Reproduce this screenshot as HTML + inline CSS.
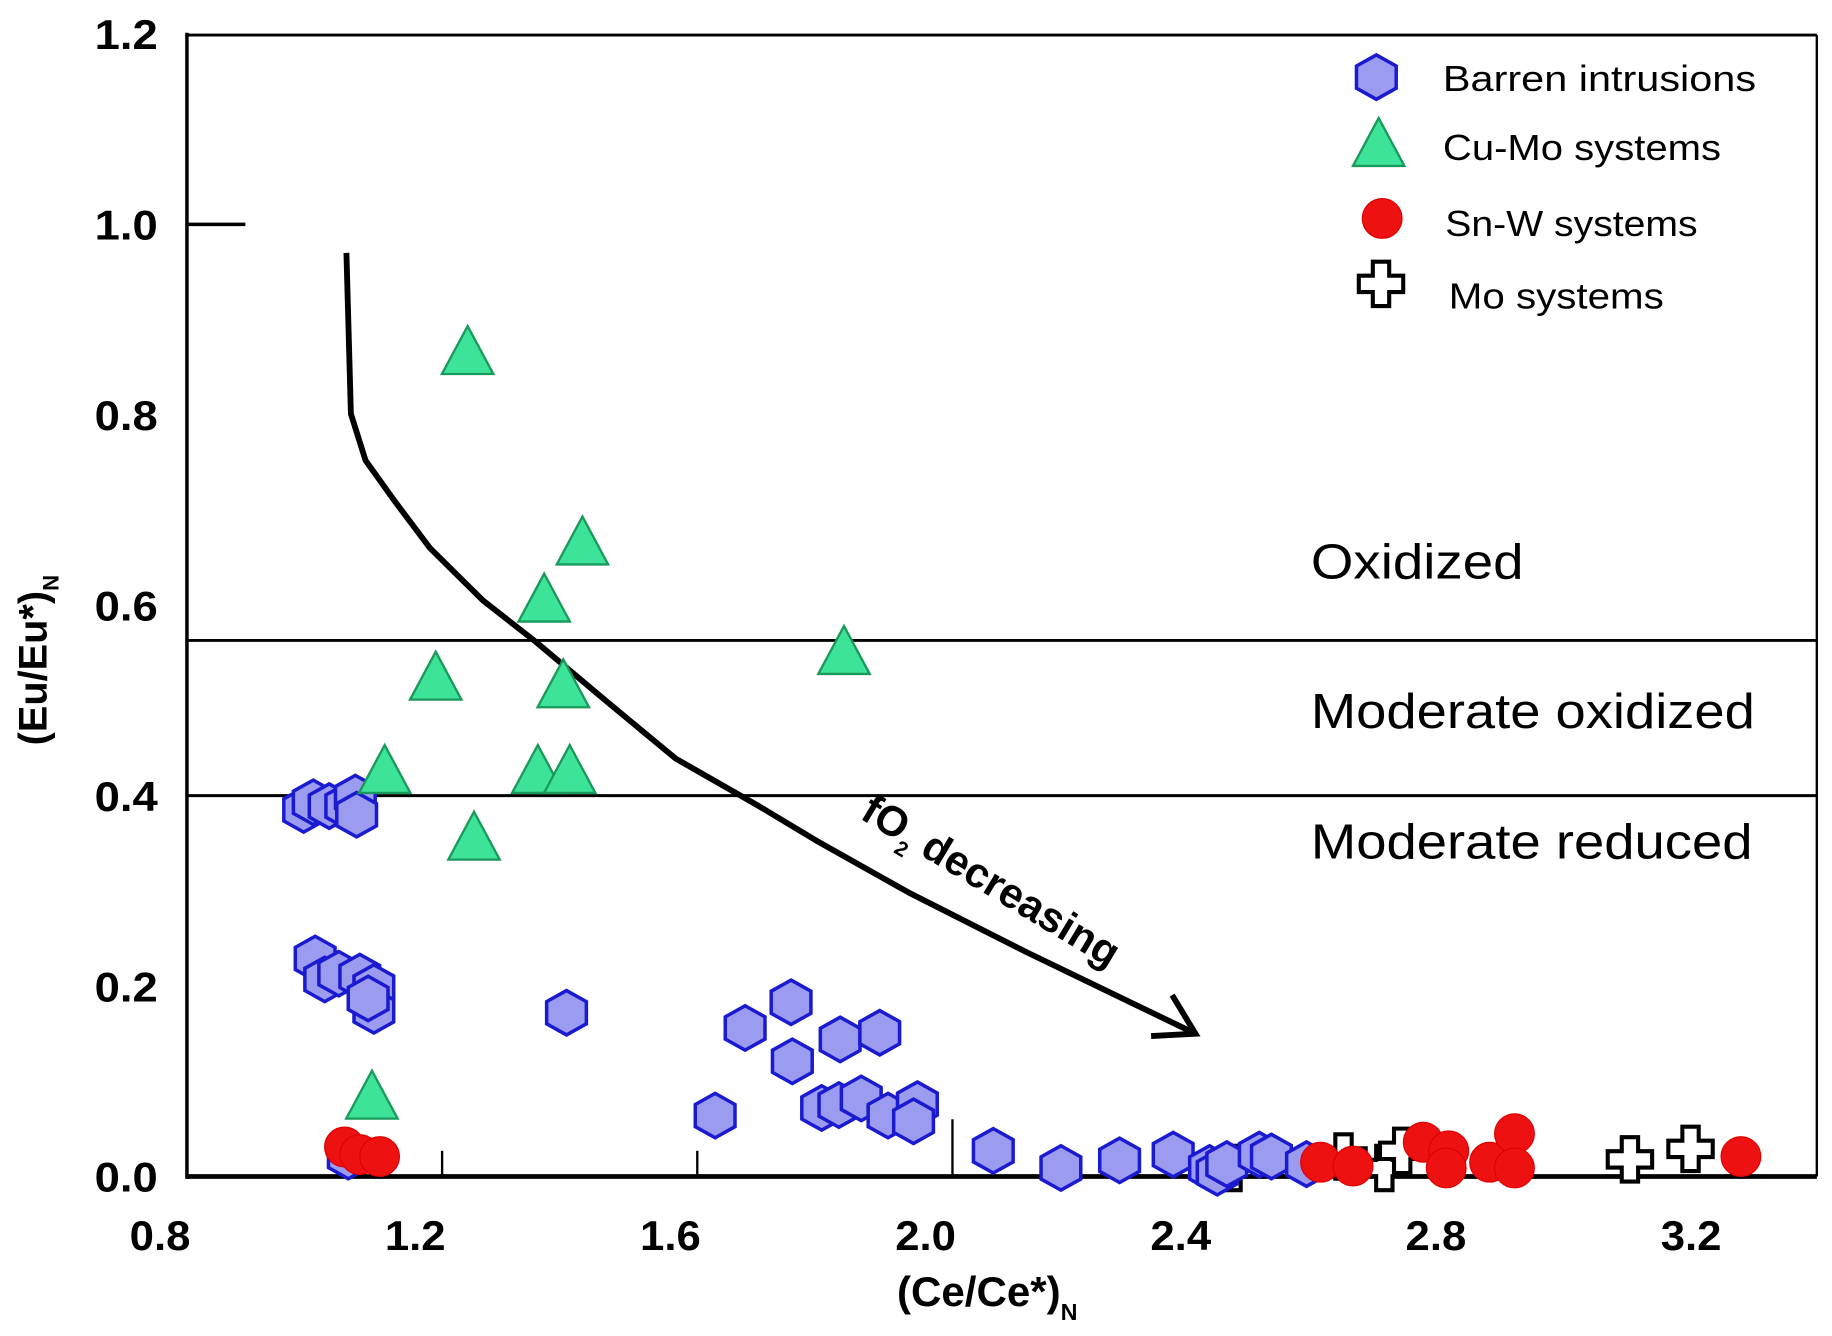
<!DOCTYPE html>
<html><head><meta charset="utf-8"><style>
html,body{margin:0;padding:0;background:#fff;}
svg{display:block;}
text{font-family:"Liberation Sans",sans-serif;}
</style></head><body>
<svg id="chart" width="1832" height="1336" viewBox="0 0 1568 1143.5" preserveAspectRatio="none" xmlns="http://www.w3.org/2000/svg">
<g id="frame">
<line x1="160" y1="30" x2="1555" y2="30" stroke="#000" stroke-width="2.5"/>
<line x1="1555" y1="30" x2="1555" y2="1007" stroke="#000" stroke-width="2"/>
<line x1="160" y1="28" x2="160" y2="1009" stroke="#000" stroke-width="3"/>
<line x1="160" y1="1007" x2="1555" y2="1007" stroke="#000" stroke-width="4"/>
</g>
<g id="xaxis"></g>
<g id="yaxis"></g>
<g id="bounds"></g>
<g id="curve"></g>
<g id="marks"></g>
<g id="legend"></g>
<text x="845" y="1118" text-anchor="middle" font-size="36" font-weight="bold">(Ce/Ce*)<tspan font-size="20" dy="12">N</tspan></text>
<text transform="translate(40,565) rotate(-90)" text-anchor="middle" font-size="34" font-weight="bold">(Eu/Eu*)<tspan font-size="19" dy="10">N</tspan></text>
<text x="1122" y="495" font-size="42" textLength="182" lengthAdjust="spacingAndGlyphs">Oxidized</text>
<text x="1122" y="623" font-size="42" textLength="380" lengthAdjust="spacingAndGlyphs">Moderate oxidized</text>
<text x="1122" y="735" font-size="42" textLength="378" lengthAdjust="spacingAndGlyphs">Moderate reduced</text>
<text transform="translate(735,700) rotate(31)" font-size="36" font-weight="bold">fO<tspan font-size="18" dy="10">2</tspan><tspan dy="-10"> decreasing</tspan></text>
</svg>
<script>
const xTicks=[0.8,1.2,1.6,2.0,2.4,2.8,3.2];
const yTicks=[0.0,0.2,0.4,0.6,0.8,1.0,1.2];
const boundaries=[0.563,0.4];
const curveX=[1.05,1.057,1.08,1.126,1.181,1.264,1.346,1.456,1.566,1.694,1.786,1.932,2.115,2.381];
const curveY=[0.970,0.801,0.752,0.709,0.660,0.605,0.562,0.500,0.439,0.390,0.353,0.298,0.236,0.150];
const barrenX=[0.983,0.998,1.023,1.049,1.064,1.066,1.001,1.016,1.038,1.071,1.093,1.093,1.084,1.395,1.053,1.675,1.747,1.749,1.824,1.886,1.628,1.795,1.822,1.857,1.899,1.945,1.939,2.064,2.170,2.262,2.346,2.403,2.415,2.430,2.481,2.500,2.555];
const barrenY=[0.385,0.393,0.389,0.389,0.398,0.380,0.229,0.207,0.213,0.210,0.199,0.174,0.187,0.172,0.021,0.156,0.183,0.121,0.144,0.151,0.064,0.072,0.075,0.082,0.064,0.076,0.058,0.027,0.009,0.017,0.023,0.009,0.004,0.013,0.023,0.021,0.013];
const cumoX=[1.24,1.42,1.36,1.83,1.19,1.39,1.11,1.35,1.40,1.25,1.09];
const cumoY=[0.86,0.66,0.60,0.545,0.518,0.51,0.42,0.42,0.42,0.35,0.078];
const snwX=[1.047,1.071,1.102,2.577,2.628,2.738,2.778,2.774,2.842,2.881,2.881,3.236];
const snwY=[0.031,0.023,0.021,0.015,0.011,0.036,0.027,0.009,0.015,0.045,0.009,0.021];
const moX=[2.439,2.613,2.677,2.705,3.062,3.157];
const moY=[0.009,0.021,0.009,0.027,0.018,0.029];

const NS='http://www.w3.org/2000/svg';
const sx=v=>160+(v-0.8)*546;
const sy=v=>1007-v*815;
function mk(tag,attrs,parent){const e=document.createElementNS(NS,tag);for(const k in attrs)e.setAttribute(k,attrs[k]);parent.appendChild(e);return e;}
const gx=document.getElementById('xaxis'),gy=document.getElementById('yaxis');
xTicks.forEach((t,i)=>{
  const x=sx(t);
  if(i>0&&i<4){const l=mk('line',{x1:x,y1:1007,x2:x,y2:i==3?958:985,stroke:'#000','stroke-width':2},gx);
    
    }
  const tx=mk('text',{x:x-23,y:1070,'text-anchor':'middle','font-size':36,'font-weight':'bold',textLength:52,lengthAdjust:'spacingAndGlyphs'},gx);
  tx.textContent=t.toFixed(1);
  
  
});
yTicks.forEach(t=>{
  const y=sy(t);
  if(t>0.9&&t<1.1){const l=mk('line',{x1:160,y1:y,x2:210,y2:y,stroke:'#000','stroke-width':3},gy);
    
    }
  const tx=mk('text',{x:135,y:y+13,'text-anchor':'end','font-size':36,'font-weight':'bold',textLength:54,lengthAdjust:'spacingAndGlyphs'},gy);
  tx.textContent=t.toFixed(1);
  
  
});
const gb=document.getElementById('bounds');
boundaries.forEach(b=>{const l=mk('line',{x1:160,y1:sy(b),x2:1555,y2:sy(b),stroke:'#000','stroke-width':2.5},gb);
  
  });
const gc=document.getElementById('curve');
const pts=curveX.map((v,i)=>sx(v)+','+sy(curveY[i])).join(' ');
const pl=mk('polyline',{points:pts,fill:'none',stroke:'#000','stroke-width':5,'stroke-linejoin':'round'},gc);


const ex=sx(curveX[curveX.length-1]),ey=sy(curveY[curveY.length-1]);
const ah=mk('polyline',{points:(ex-20)+','+(ey-33)+' '+ex+','+ey+' '+(ex-38)+','+(ey+2),fill:'none',stroke:'#000','stroke-width':5},gc);



function hex(cx,cy,p,name){const r=19,w=17;
  const e=mk('polygon',{points:[[cx,cy-r],[cx+w,cy-r/2],[cx+w,cy+r/2],[cx,cy+r],[cx-w,cy+r/2],[cx-w,cy-r/2]].map(a=>a.join(',')).join(' '),fill:'#9b9bf0',stroke:'#1a1ad0','stroke-width':3},p);
  
  }
function tri(cx,cy,p,name){
  const e=mk('polygon',{points:`${cx},${cy-27} ${cx+22},${cy+14} ${cx-22},${cy+14}`,fill:'#3ee39a',stroke:'#1a9a5a','stroke-width':2},p);
  
  }
function circ(cx,cy,p,name){
  const e=mk('circle',{cx:cx,cy:cy,r:17,fill:'#ee1111',stroke:'#dd0000','stroke-width':1},p);
  
  }
function cross(cx,cy,p,name){const a=7,b=19;
  const e=mk('polygon',{points:[[cx-a,cy-b],[cx+a,cy-b],[cx+a,cy-a],[cx+b,cy-a],[cx+b,cy+a],[cx+a,cy+a],[cx+a,cy+b],[cx-a,cy+b],[cx-a,cy+a],[cx-b,cy+a],[cx-b,cy-a],[cx-a,cy-a]].map(q=>q.join(',')).join(' '),fill:'#fff',stroke:'#000','stroke-width':3.5},p);
  
  }
const gm=document.getElementById('marks');
moX.forEach((v,i)=>cross(sx(v),sy(moY[i]),gm,'mo-point'));
barrenX.forEach((v,i)=>hex(sx(v),sy(barrenY[i]),gm,'barren-point'));
cumoX.forEach((v,i)=>tri(sx(v),sy(cumoY[i]),gm,'cu-mo-point'));
snwX.forEach((v,i)=>circ(sx(v),sy(snwY[i]),gm,'sn-w-point'));

const gl=document.getElementById('legend');
const items=[['Barren intrusions',hex,1178,66,1235,78,268,'legend-barren'],['Cu-Mo systems',tri,1180,128,1235,137,238,'legend-cu-mo'],['Sn-W systems',circ,1183,187,1237,202,216,'legend-sn-w'],['Mo systems',cross,1182,243,1240,264,184,'legend-mo']];
items.forEach(it=>{
  it[1](it[2],it[3],gl,it[7]+'-symbol');
  const t=mk('text',{x:it[4],y:it[5],'font-size':31,textLength:it[6],lengthAdjust:'spacingAndGlyphs'},gl);
  t.textContent=it[0];
  
  
});
</script>
</body></html>
